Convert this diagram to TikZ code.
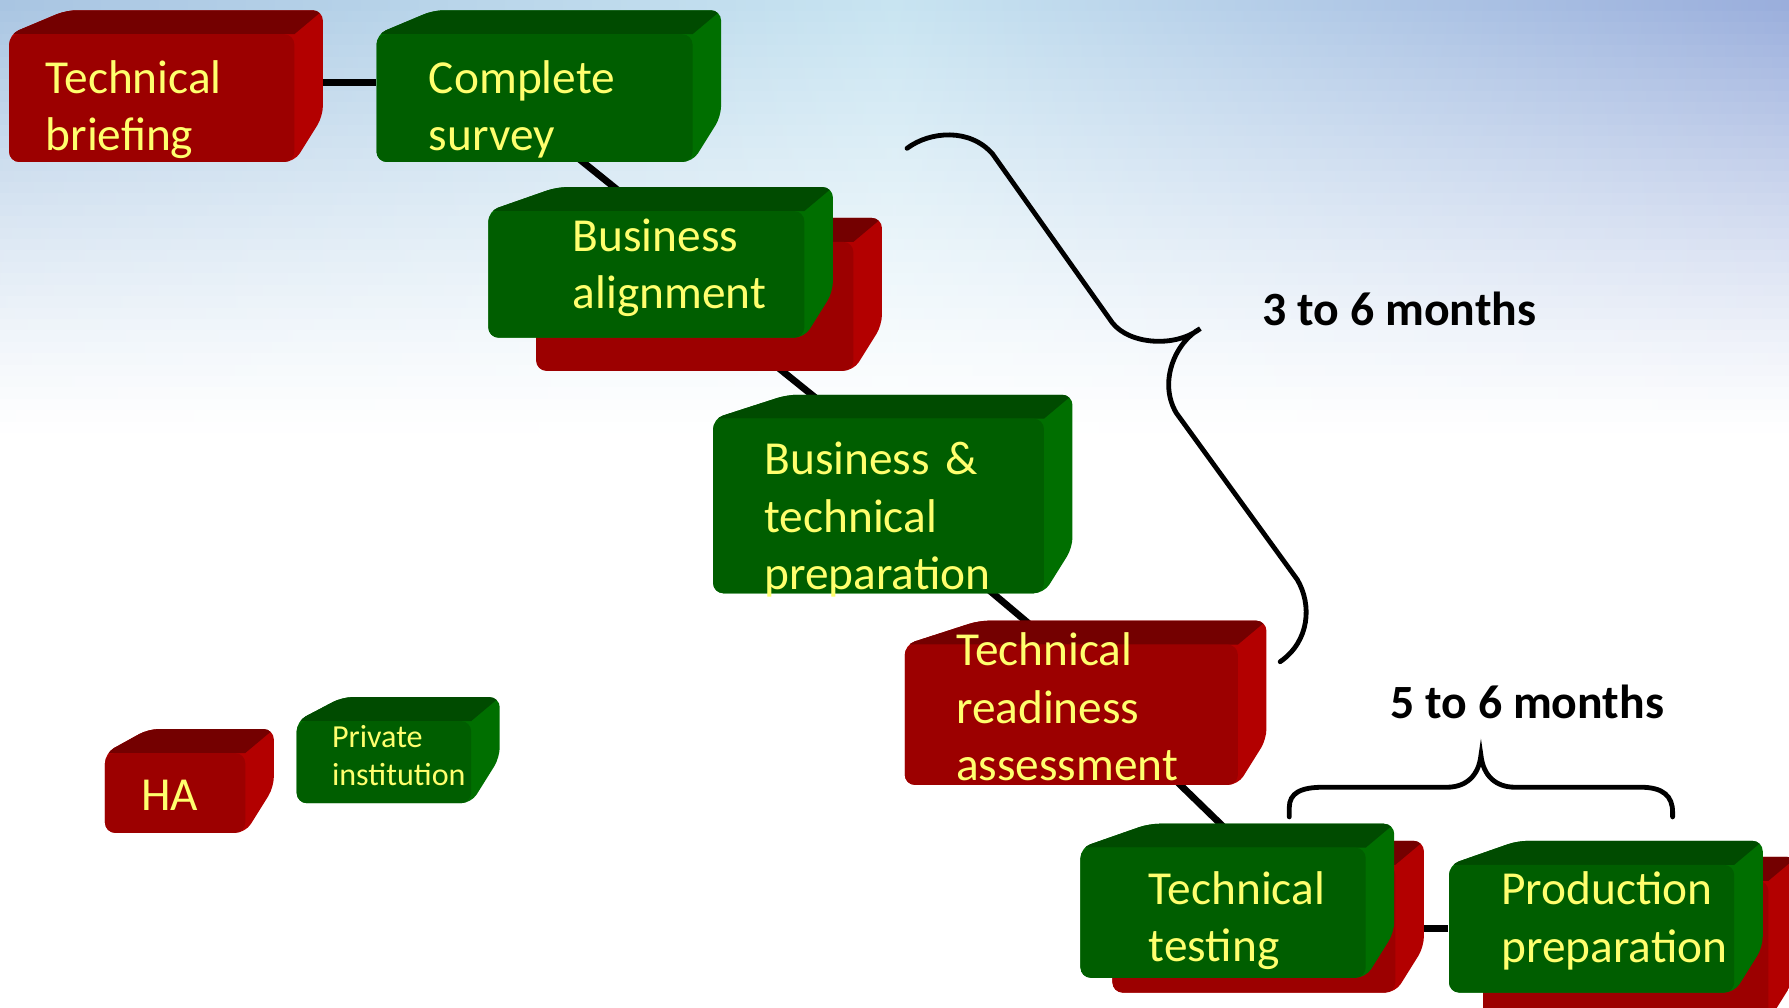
\documentclass[tikz,border=0pt]{standalone}
\usepackage{fontspec}
\setmainfont{Carlito}
\pgfdeclarelayer{bg}
\pgfsetlayers{bg,main}

\definecolor{redfront}{HTML}{9C0000}
\definecolor{redtop}{HTML}{740000}
\definecolor{redside}{HTML}{B30000}
\definecolor{greenfront}{HTML}{005E00}
\definecolor{greentop}{HTML}{004B00}
\definecolor{greenside}{HTML}{006F00}
\definecolor{labelyellow}{HTML}{FFFF6E}
\definecolor{skyL}{HTML}{A9C5E2}
\definecolor{skyM}{HTML}{C8E4F1}
\definecolor{skyR}{HTML}{9AAEDC}

\newdimen\pxlen \pxlen=0.01cm
% #1 name, #2 colour, #3 x, #4 y, #5 width, #6 height, #7 slant, #8 node options, #9 text
\newcommand{\stagebox}[9]{%
  \begin{scope}
    \clip[rounded corners=0.9mm] (#3,#4+#6) -- (#3,#4) -- (#3+#7,#4-21) -- (#3+#5+25,#4-21)
      -- (#3+#5+25,#4+#6-40) -- (#3+#5,#4+#6) -- cycle;
    \fill[#2side] (#3-5,#4-30) rectangle (#3+#5+30,#4+#6+5);
    \fill[#2top] (#3-5,#4) -- (#3-5,#4-26) -- (#3+#5+31,#4-26) -- (#3+#5,#4) -- cycle;
  \end{scope}
  \fill[#2front, rounded corners=0.9mm] (#3,#4) rectangle (#3+#5,#4+#6);
  \node[stagetext, text width=#5*0.01cm, #8] (#1) at (#3+#5/2,#4+#6/2) {#9};
}

\begin{document}
\begin{tikzpicture}[x=0.01cm, y=-0.01cm,
    stagetext/.style={text=labelyellow, inner sep=0pt, align=left,
      font=\fontsize{11.8}{14.3}\selectfont},
    lpad/.style={execute at begin node={\leftskip=#1\pxlen}},
    small/.style={font=\fontsize{8}{9.4}\selectfont},
    link/.style={line width=1.7pt, black},
    brace/.style={line width=1.2pt, black, line cap=round},
    span/.style={inner sep=0pt, anchor=base west, font=\bfseries\fontsize{11.9}{14}\selectfont}]
	\useasboundingbox (0,0) rectangle (1568,883);
	\begin{pgfonlayer}{bg}
		\fill[white] (0,0) rectangle (1568,883);
		% sky, strip by strip
		\foreach \i in {0,...,38} {
			\pgfmathsetmacro\mix{100*(1-\i/38)^1.2}
			\fill[left color=skyL!\mix!white, right color=skyR!\mix!white, middle color=skyM!\mix!white]
				(0,\i*10) rectangle (1568,\i*10+11);
		}
	\end{pgfonlayer}

	\stagebox{brief}{red}{8}{30}{250}{112}{50}{lpad=32, yshift=-1mm}{Technical\\briefing}
	\stagebox{survey}{green}{330}{30}{277}{112}{50}{lpad=46, yshift=-1mm}{Complete\\survey}
	\stagebox{alignbk}{red}{470}{212}{278}{113}{60}{}{}
	\stagebox{align}{green}{428}{185}{277}{111}{60}{lpad=74, yshift=0.6mm}{Business\\alignment}
	\stagebox{prep}{green}{625}{367}{290}{153}{65}{lpad=45, yshift=-1.2mm}{Business \&\\technical\\preparation}
	\stagebox{ready}{red}{793}{565}{292}{123}{65}{lpad=45, yshift=0.7mm}{Technical\\readiness\\assessment}
	\stagebox{testbk}{red}{975}{758}{248}{112}{60}{}{}
	\stagebox{test}{green}{947}{743}{250}{114}{60}{lpad=60, yshift=-0.7mm}{Technical\\testing}
	\stagebox{prodbk}{red}{1300}{772}{250}{123}{60}{}{}
	\stagebox{prod}{green}{1270}{758}{250}{112}{60}{lpad=46, yshift=0.7mm}{Production\\preparation}
	\stagebox{ha}{red}{92}{660}{123}{70}{38}{lpad=32, yshift=-0.2mm}{HA}
	\stagebox{private}{green}{260}{632}{153}{72}{40}{lpad=31, small, yshift=0.6mm}{Private\\institution}

	\begin{pgfonlayer}{bg}
		\draw[link] ([yshift=2.4mm]brief.east) -- ([yshift=2.4mm]brief.east -| survey.west);
		\draw[link] ([shift={(27.5,34)}]survey.center) -- ([shift={(-8.5,-54.5)}]align.center);
		\draw[link] ([shift={(51,36)}]alignbk.center) -- ([shift={(-30,-86.5)}]prep.center);
		\draw[link] ([shift={(80,47.5)}]prep.center) -- ([shift={(-19,-57.5)}]ready.center);
		\draw[link] ([shift={(76,49.5)}]ready.center) -- ([shift={(13,-70)}]test.center);
		\draw[link] (testbk.east) -- (testbk.east -| prod.west);
	\end{pgfonlayer}

	% braces
	\draw[brace] (795,130) .. controls (815,115) and (850,112) .. (870,135) -- (975,283)
		.. controls (990,302) and (1030,305) .. (1052,288)
		.. controls (1030,300) and (1015,335) .. (1031,362) -- (1137,508)
		.. controls (1150,530) and (1148,562) .. (1122,580);
	\draw[brace] (1130,716) -- (1130,708) .. controls (1130,695) and (1140,690) .. (1160,690) -- (1268,690)
		.. controls (1285,690) and (1296,680) .. (1298,662)
		.. controls (1300,680) and (1311,690) .. (1328,690) -- (1438,690)
		.. controls (1458,690) and (1466,698) .. (1466,712) -- (1466,716);
	\node[span] (first) at (1106,285) {3 to 6 months};
	\node[span] (second) at (1218,630) {5 to 6 months};
\end{tikzpicture}
\end{document}
